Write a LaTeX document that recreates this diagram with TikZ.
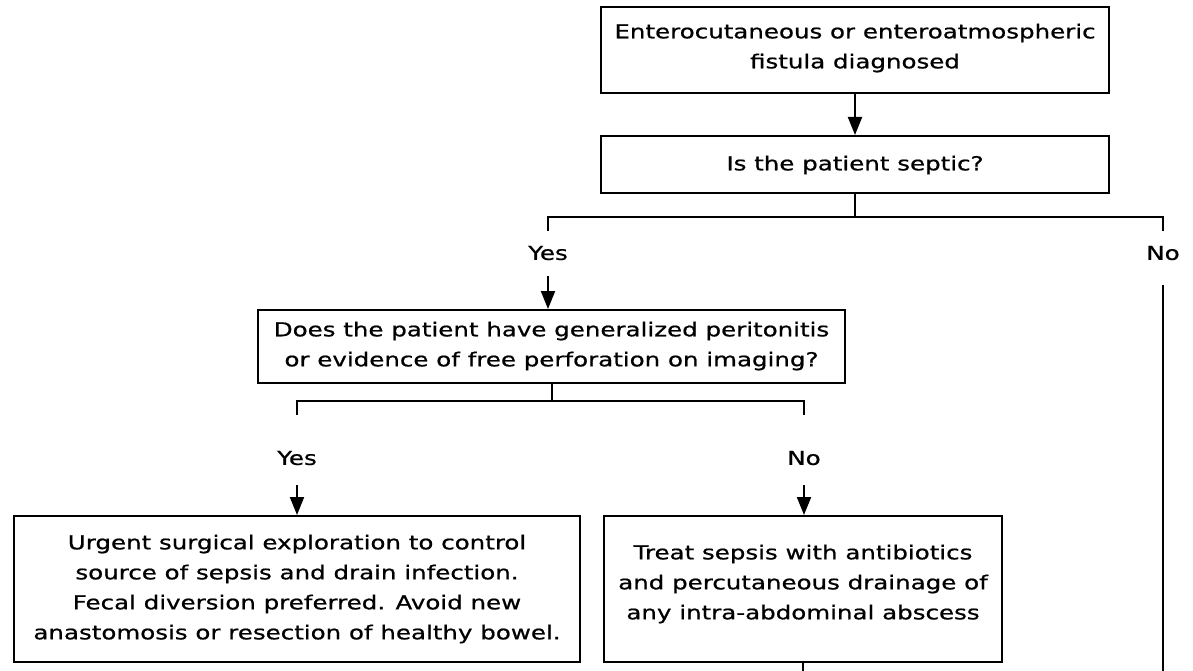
\documentclass[tikz,border=0pt]{standalone}
\usepackage{fontspec}
\setmainfont{DejaVu Sans}[FakeStretch=1.27,FakeBold=0.8]
\usetikzlibrary{arrows.meta}
\tikzset{
  box/.style={draw, line width=2pt, inner sep=0pt},
  txt/.style={align=center, font=\fontsize{19.3}{30}\selectfont, inner sep=0pt},
  con/.style={line width=2pt},
  arr/.style={con, -{Triangle[width=14pt,length=18pt]}},
  lbl/.style={font=\fontsize{19.3}{30}\selectfont, inner sep=0pt}
}
\begin{document}
\begin{tikzpicture}[x=1pt,y=-1pt]
\fill[white] (0,0) rectangle (1193,671);
\useasboundingbox (0,0) rectangle (1193,671);
% boxes
\node[box, minimum width=508pt, minimum height=86pt] (b1) at (855,50) {};
\node[box, minimum width=508pt, minimum height=57pt] (b2) at (855,164.5) {};
\node[box, minimum width=587pt, minimum height=73pt] (b3) at (551.5,346.5) {};
\node[box, minimum width=566pt, minimum height=146pt] (b4) at (297,589) {};
\node[box, minimum width=398pt, minimum height=146pt] (b5) at (803,589) {};
% texts
\node[txt] (t1) at (855,48) {Enterocutaneous or enteroatmospheric\\fistula diagnosed};
\node[txt] (t2) at (855,165) {Is the patient septic?};
\node[txt] (t3) at (551.5,346) {Does the patient have generalized peritonitis\\or evidence of free perforation on imaging?};
\node[txt] (t4) at (297,589) {Urgent surgical exploration to control\\source of sepsis and drain infection.\\Fecal diversion preferred. Avoid new\\anastomosis or resection of healthy bowel.};
\node[txt] (t5) at (803,584) {Treat sepsis with antibiotics\\and percutaneous drainage of\\any intra-abdominal abscess};
% labels
\node[lbl] (yes1) at (548,253) {Yes};
\node[lbl] (no1) at (1163,253) {No};
\node[lbl] (yes2) at (297,458) {Yes};
\node[lbl] (no2) at (804,458) {No};
% coordinates
\coordinate (j1) at (855,217);
\coordinate (y1t) at (548,231);
\coordinate (n1t) at (1163,231);
\coordinate (a1) at (548,276);
\coordinate (n1s) at (1163,285);
\coordinate (n1e) at (1163,671);
\coordinate (j2) at (551.5,401);
\coordinate (y2t) at (297,415);
\coordinate (n2t) at (804,415);
\coordinate (a2) at (297,485);
\coordinate (a3) at (804,485);
\coordinate (out2) at (803,671);
% connectors
\draw[arr] (b1.south) -- (b2.north);
\draw[con] (b2.south) -- (j1);
\draw[con] (y1t) -- (y1t |- j1) -| (n1t);
\draw[arr] (a1) -- (a1 |- b3.north);
\draw[con] (n1s) -- (n1e);
\draw[con] (b3.south) -- (j2);
\draw[con] (y2t) -- (y2t |- j2) -| (n2t);
\draw[arr] (a2) -- (a2 |- b4.north);
\draw[arr] (a3) -- (a3 |- b5.north);
\draw[con] (b5.south) -- (out2);
\end{tikzpicture}
\end{document}
